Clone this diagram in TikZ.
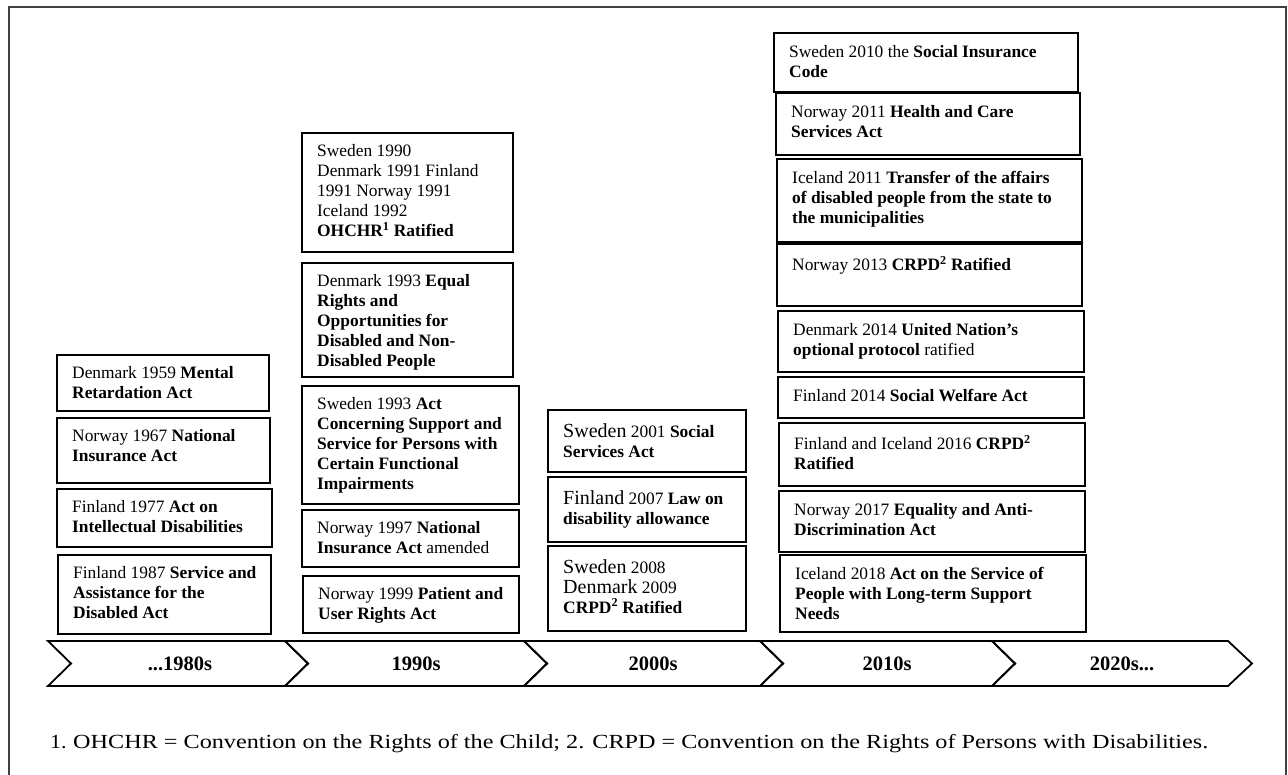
\documentclass[tikz,border=0pt]{standalone}
\usepackage{fontspec}
\usepackage{graphicx}
\setmainfont{Liberation Serif}
\usetikzlibrary{calc}
\tikzset{
  evbox/.style={draw=black, line width=1.8pt, inner sep=0pt, outer sep=0pt, anchor=north west},
  evtext/.style={inner sep=0pt, align=left, anchor=north west, font=\fontsize{17.4}{20}\selectfont},
  chev/.style={draw=black, line width=1.8pt, line join=miter},
  chevlabel/.style={inner sep=0pt, font=\fontsize{20.5}{24}\selectfont\bfseries},
  frameline/.style={draw=black!75, line width=2.2pt},
  fntext/.style={inner sep=0pt, anchor=base west, font=\fontsize{20}{22}\selectfont},
}
\newcommand{\evb}[7]{%
  \node[evbox, minimum width={#4-#2}, minimum height={#5-#3}] (#1) at (#2,#3) {};
  \node[evtext] (#1t) at ([shift={(15,#6)}]#1.north west) {#7};
}
\newcommand{\bigw}[1]{{\fontsize{20}{21}\selectfont #1}}
\begin{document}
\begin{tikzpicture}[x=1pt,y=-1pt]
\useasboundingbox (0,0) rectangle (1288,775);
% outer frame
\draw[frameline] (9,777) -- (9,7) -- (1286,7) -- (1286,777);

% column 1
\evb{a}{57}{355}{269}{411}{11.5}{Denmark 1959 \textbf{Mental}\\\textbf{Retardation Act}}
\evb{b}{57}{418}{270}{483}{11.5}{Norway 1967 \textbf{National}\\\textbf{Insurance Act}}
\evb{c}{57}{489}{272}{547}{11.5}{Finland 1977 \textbf{Act on}\\\textbf{Intellectual Disabilities}}
\evb{d}{58}{555}{271}{634}{11.5}{Finland 1987 \textbf{Service and}\\\textbf{Assistance for the}\\\textbf{Disabled Act}}

% column 2
\evb{e}{302}{133}{513}{252}{11.5}{Sweden 1990\\Denmark 1991 Finland\\1991 Norway 1991\\Iceland 1992\\\textbf{OHCHR\textsuperscript{1} Ratified}}
\evb{f}{302}{263}{513}{377}{11.5}{Denmark 1993 \textbf{Equal}\\\textbf{Rights and}\\\textbf{Opportunities for}\\\textbf{Disabled and Non-}\\\textbf{Disabled People}}
\evb{g}{302}{386}{519}{504}{11.5}{Sweden 1993 \textbf{Act}\\\textbf{Concerning Support and}\\\textbf{Service for Persons with}\\\textbf{Certain Functional}\\\textbf{Impairments}}
\evb{h}{302}{510}{519}{567}{11.5}{Norway 1997 \textbf{National}\\\textbf{Insurance Act} amended}
\evb{i}{303}{576}{519}{633}{11.5}{Norway 1999 \textbf{Patient and}\\\textbf{User Rights Act}}

% column 3
\evb{j}{548}{410}{746}{472}{13}{\bigw{Sweden} 2001 \textbf{Social}\\\textbf{Services Act}}
\evb{k}{548}{477}{746}{542}{13}{\bigw{Finland} 2007 \textbf{Law on}\\\textbf{disability allowance}}
\evb{l}{548}{546}{746}{631}{13}{\bigw{Sweden} 2008\\\bigw{Denmark} 2009\\\textbf{CRPD\textsuperscript{2} Ratified}}

% column 4
\evb{m}{774}{33}{1078}{92}{12}{Sweden 2010 the \textbf{Social Insurance}\\\textbf{Code}}
\evb{n}{776}{93}{1080}{155}{12}{Norway 2011 \textbf{Health and Care}\\\textbf{Services Act}}
\evb{o}{777}{159}{1082}{242}{12}{Iceland 2011 \textbf{Transfer of the affairs}\\\textbf{of disabled people from the state to}\\\textbf{the municipalities}}
\evb{p}{777}{244}{1082}{306}{12}{Norway 2013 \textbf{CRPD\textsuperscript{2} Ratified}}
\evb{q}{778}{311}{1084}{372}{12}{Denmark 2014 \textbf{United Nation’s}\\\textbf{optional protocol} ratified}
\evb{r}{778}{377}{1084}{418}{12}{Finland 2014 \textbf{Social Welfare Act}}
\evb{s}{779}{423}{1085}{486}{12}{Finland and Iceland 2016 \textbf{CRPD\textsuperscript{2}}\\\textbf{Ratified}}
\evb{t}{779}{491}{1085}{552}{12}{Norway 2017 \textbf{Equality and Anti-}\\\textbf{Discrimination Act}}
\evb{u}{780}{555}{1086}{632}{12}{Iceland 2018 \textbf{Act on the Service of}\\\textbf{People with Long-term Support}\\\textbf{Needs}}

% timeline chevrons
\draw[chev] (48,641) -- (285,641) -- (308,663.5) -- (285,686) -- (48,686) -- (71,663.5) -- cycle;
\draw[chev] (285,641) -- (524,641) -- (547,663.5) -- (524,686) -- (285,686) -- (308,663.5) -- cycle;
\draw[chev] (524,641) -- (760,641) -- (783,663.5) -- (760,686) -- (524,686) -- (547,663.5) -- cycle;
\draw[chev] (760,641) -- (992,641) -- (1015,663.5) -- (992,686) -- (760,686) -- (783,663.5) -- cycle;
\draw[chev] (992,641) -- (1228,641) -- (1252,663.5) -- (1228,686) -- (992,686) -- (1015,663.5) -- cycle;
\node[chevlabel] (d80) at (180,664) {...1980s};
\node[chevlabel] (d90) at (416,664) {1990s};
\node[chevlabel] (d00) at (653,664) {2000s};
\node[chevlabel] (d10) at (887,664) {2010s};
\node[chevlabel] (d20) at (1122,664) {2020s...};

% footnote
\node[fntext] (fnnum) at (50,748) {\scalebox{1.1}[1]{1.}};
\node[fntext] (fn) at (73,748) {\scalebox{1.21}[1]{OHCHR = Convention on the Rights of the Child; 2. CRPD = Convention on the Rights of Persons with Disabilities.}};
\end{tikzpicture}
\end{document}
